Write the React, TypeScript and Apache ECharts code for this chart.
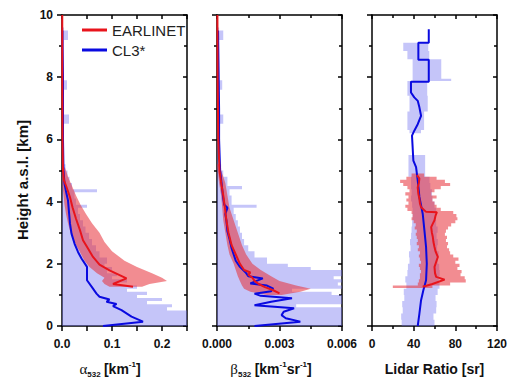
import React, { useEffect, useRef } from "react";
import * as echarts from "echarts";

// ---------- Panel 1: extinction alpha_532 [km^-1] ----------
const alphaCL3H = [0, 0.14, 0.3, 0.51, 0.64, 0.71, 0.78, 0.85, 0.94, 1.04, 1.2, 1.47, 1.9, 2.17, 2.38, 2.65, 2.97, 3.29, 3.66, 4.04, 4.25, 4.57, 5.0, 6.0, 7.0, 8.0, 9.0, 9.5];
const alphaCL3 = [0.082, 0.162, 0.139, 0.119, 0.102, 0.109, 0.089, 0.095, 0.075, 0.069, 0.062, 0.05, 0.05, 0.039, 0.032, 0.025, 0.019, 0.016, 0.014, 0.012, 0.009, 0.005, 0.003, 0.002, 0.002, 0.002, 0.001, 0.001];
const alphaEarH = [1.26, 1.35, 1.53, 1.66, 1.79, 1.97, 2.22, 2.49, 2.76, 3.08, 3.45, 3.82, 4.14, 4.47, 4.68, 5.0, 6.0, 8.0, 10.0];
const alphaEar = [0.142, 0.102, 0.129, 0.112, 0.095, 0.075, 0.062, 0.052, 0.042, 0.036, 0.028, 0.021, 0.016, 0.009, 0.004, 0.002, 0.001, 0.0006, 0.0005];
const alphaEarBandH = [1.26, 1.35, 1.45, 1.55, 1.7, 1.9, 2.1, 2.4, 2.7, 3.0, 3.3, 3.6, 3.9, 4.2, 4.5, 4.8, 5.1];
const alphaEarBandLo = [0.095, 0.085, 0.08, 0.085, 0.07, 0.055, 0.045, 0.035, 0.025, 0.017, 0.012, 0.008, 0.005, 0.003, 0.001, 0, 0];
const alphaEarBandHi = [0.16, 0.175, 0.21, 0.2, 0.18, 0.15, 0.125, 0.1, 0.085, 0.075, 0.06, 0.048, 0.037, 0.028, 0.02, 0.012, 0.006];
// step rows: boundaries / upper value per row (lower = 0)
const alphaCL3BandH = [0, 0.1, 0.2, 0.3, 0.4, 0.5, 0.6, 0.7, 0.8, 0.9, 1.0, 1.1, 1.2, 1.3, 1.4, 1.5, 1.6, 1.7, 1.8, 1.9, 2.0, 2.2, 2.4, 2.6, 2.8, 3.0, 3.2, 3.4, 3.6, 3.8, 3.9, 4.1, 4.3, 4.4, 4.6, 4.8, 5.0, 5.2, 6.5, 6.8, 7.6, 7.9, 9.2, 9.5, 9.6];
const alphaCL3BandHi = [0.25, 0.25, 0.25, 0.25, 0.25, 0.21, 0.22, 0.17, 0.2, 0.15, 0.17, 0.13, 0.15, 0.11, 0.13, 0.1, 0.11, 0.09, 0.1, 0.085, 0.09, 0.075, 0.068, 0.06, 0.054, 0.047, 0.042, 0.036, 0.032, 0.05, 0.028, 0.025, 0.07, 0.02, 0.015, 0.011, 0.007, 0.004, 0.014, 0.004, 0.01, 0.004, 0.012, 0.004];

// ---------- Panel 2: backscatter beta_532 [km^-1 sr^-1] ----------
const betaCL3H = [0, 0.14, 0.25, 0.35, 0.46, 0.57, 0.67, 0.78, 0.89, 0.97, 1.04, 1.12, 1.2, 1.3, 1.37, 1.45, 1.53, 1.6, 1.7, 1.9, 2.1, 2.3, 2.5, 2.8, 3.05, 3.4, 3.6, 3.8, 3.9, 4.1, 4.4, 4.7, 5.0, 6.0, 7.0, 8.0, 9.5];
const betaCL3 = [0.0018, 0.004, 0.0033, 0.0031, 0.0032, 0.0037, 0.0018, 0.0026, 0.0036, 0.0021, 0.0018, 0.0026, 0.0027, 0.0024, 0.0016, 0.0019, 0.0022, 0.0015, 0.0014, 0.0011, 0.0009, 0.0008, 0.0007, 0.0006, 0.0005, 0.00045, 0.0004, 0.0005, 0.00035, 0.0003, 0.00025, 0.0002, 0.00015, 0.0001, 0.0001, 0.00008, 0.00005];
const betaEarH = [1.05, 1.15, 1.25, 1.35, 1.45, 1.55, 1.65, 1.72, 1.8, 2.0, 2.3, 2.6, 3.0, 3.4, 3.8, 4.2, 4.6, 5.0, 6.0, 8.0, 10.0];
const betaEar = [0.003, 0.0027, 0.0023, 0.002, 0.0018, 0.0017, 0.0015, 0.0016, 0.0013, 0.0011, 0.0009, 0.0007, 0.00055, 0.00045, 0.00038, 0.0003, 0.0002, 0.00012, 0.00006, 0.00003, 0.00002];
const betaEarBandH = [1.0, 1.1, 1.2, 1.3, 1.45, 1.6, 1.8, 2.0, 2.3, 2.6, 3.0, 3.4, 3.8, 4.2, 4.6, 4.9, 5.2];
const betaEarBandLo = [0.0024, 0.0016, 0.0013, 0.0012, 0.0011, 0.001, 0.0009, 0.0008, 0.0006, 0.0005, 0.0004, 0.0003, 0.00025, 0.0002, 0.0001, 0.00005, 0];
const betaEarBandHi = [0.0031, 0.004, 0.0045, 0.0038, 0.003, 0.0026, 0.0021, 0.0017, 0.0014, 0.0012, 0.001, 0.0008, 0.0006, 0.0005, 0.0004, 0.00025, 0.0001];
const betaCL3BandH = [0, 0.1, 0.2, 0.3, 0.4, 0.5, 0.6, 0.7, 0.8, 0.9, 1.0, 1.1, 1.2, 1.3, 1.4, 1.5, 1.6, 1.7, 1.8, 1.9, 2.0, 2.2, 2.4, 2.6, 2.8, 3.0, 3.2, 3.4, 3.6, 3.8, 3.9, 4.2, 4.4, 4.5, 4.8, 5.0, 5.2, 6.5, 6.8, 7.6, 7.9, 9.2, 9.5, 9.6];
const betaCL3BandHi = [0.006, 0.006, 0.006, 0.006, 0.006, 0.006, 0.0038, 0.006, 0.006, 0.006, 0.0055, 0.0036, 0.006, 0.0058, 0.006, 0.0056, 0.006, 0.006, 0.0045, 0.0034, 0.0024, 0.0018, 0.0015, 0.0013, 0.0012, 0.0011, 0.001, 0.0009, 0.0008, 0.0019, 0.0007, 0.0006, 0.0012, 0.0005, 0.0003, 0.0002, 0.0001, 0.0003, 0.0001, 0.00025, 0.0001, 0.0003, 0.0001];

// ---------- Panel 3: lidar ratio [sr] ----------
const lrCL3H = [0, 0.4, 0.83, 1.15, 1.47, 2.0, 2.54, 3.08, 3.61, 4.15, 4.68, 5.11, 5.32, 5.75, 6.12, 6.28, 6.49, 6.76, 7.03, 7.24, 7.35, 7.51, 7.85, 7.85, 8.56, 8.56, 9.11, 9.11, 9.54];
const lrCL3 = [43.9, 45.5, 47.1, 49.3, 51.9, 52.6, 51.9, 50.3, 48.7, 45.5, 43.9, 42.3, 39.7, 39.0, 38.4, 40.6, 43.9, 47.1, 45.5, 43.9, 40.6, 37.4, 37.4, 54.5, 54.5, 44.5, 44.5, 54.5, 54.5];
const lrEarH = [1.26, 1.35, 1.49, 1.58, 1.7, 1.9, 2.05, 2.22, 2.4, 2.54, 2.7, 2.86, 3.0, 3.18, 3.3, 3.4, 3.55, 3.66, 3.67, 3.82, 3.95, 4.09, 4.25, 4.46, 4.6, 4.75, 4.85];
const lrEar = [48.7, 58, 69.7, 61.6, 60.5, 60, 61.5, 63.2, 61, 60, 59, 58.4, 57.5, 56.8, 58.5, 60, 61, 62.3, 51.9, 47.1, 46, 45.5, 44.5, 43.9, 45, 45.5, 43];
const lrEarBandH = [1.22, 1.3, 1.4, 1.5, 1.6, 1.7, 1.8, 1.9, 2.0, 2.1, 2.2, 2.3, 2.4, 2.5, 2.6, 2.7, 2.8, 2.9, 3.0, 3.1, 3.2, 3.3, 3.4, 3.5, 3.6, 3.7, 3.8, 3.9, 4.0, 4.1, 4.2, 4.3, 4.4, 4.5, 4.6, 4.7, 4.8, 4.9];
const lrEarBandLo = [20, 44, 45, 46, 46, 47, 46, 45, 47, 46, 45, 46, 44, 45, 43, 44, 43, 42, 43, 41, 42, 40, 38, 39, 38, 34, 32, 35, 33, 35, 32, 36, 34, 30, 27, 33, 38];
const lrEarBandHi = [58, 75, 90, 89, 85, 86, 82, 84, 80, 83, 78, 75, 74, 72, 73, 71, 72, 70, 71, 73, 76, 80, 82, 81, 78, 66, 62, 60, 58, 62, 57, 60, 66, 75, 70, 62, 50];
const lrCL3BandH = [0, 0.2, 0.4, 0.6, 0.8, 1.0, 1.2, 1.4, 1.6, 1.8, 2.0, 2.2, 2.4, 2.6, 2.8, 3.0, 3.2, 3.4, 3.6, 3.8, 4.0, 4.2, 4.4, 4.6, 4.8, 5.5, 6.2, 6.3, 6.9, 7.4, 7.88, 7.95, 8.58, 8.84, 9.11];
const lrCL3BandLo = [28.5, 28, 29.5, 29, 31, 30.5, 33, 32, 34, 34.5, 36, 35.5, 37, 36.5, 37.5, 38, 38.5, 39, 39, 38.5, 37.5, 38, 37.5, 37.5, 35, 39, 36, 34, 36, 34, 39, 39, 34, 30];
const lrCL3BandHi = [60, 59, 61.6, 62, 61, 63, 64.8, 64, 65, 64.5, 63, 64, 62.5, 63.2, 62, 63, 61.6, 61, 61.6, 60, 58, 57.5, 56, 55.2, 51, 39, 47, 50, 53.5, 53, 76, 66.5, 55, 54];

// ---------- axes ----------
const heightTicks = { min: 0, max: 10, interval: 2 };
const alphaAxis = { min: 0, max: 0.25, interval: 0.05, labelStep: 0.1, digits: 1 };
const betaAxis = { min: 0, max: 0.006, interval: 0.003, labelStep: 0.003, digits: 3 };
const lrAxis = { min: 0, max: 120, interval: 40, labelStep: 40, digits: 0 };
const heightTitle = "Height a.s.l. [km]";

const FONT = "'Liberation Sans', Arial, Helvetica, sans-serif";
const RED = "#e8141c";
const BLUE = "#0a0ae0";
const RED_BAND = "rgba(232,45,55,0.55)";
const BLUE_BAND = "rgba(110,110,240,0.4)";

const GRIDS = [
  { left: 62, top: 15, width: 125, height: 311, outerBoundsMode: "none", containLabel: false },
  { left: 217, top: 15, width: 125, height: 311, outerBoundsMode: "none", containLabel: false },
  { left: 372, top: 15, width: 125, height: 311, outerBoundsMode: "none", containLabel: false },
];

const lineSt = { color: "#000", width: 1.5 };

function xAxes(g: number, ax: any, name: string, rich: any, padRight: number, minor: boolean) {
  const base = {
    type: "value",
    gridIndex: g,
    min: ax.min,
    max: ax.max,
    interval: ax.interval,
    splitLine: { show: false },
    axisLine: { show: true, onZero: false, lineStyle: lineSt },
  };
  const fmt = (v: number) => {
    const r = v / ax.labelStep;
    if (Math.abs(r - Math.round(r)) > 1e-6) return "";
    return v.toFixed(ax.digits);
  };
  return [
    {
      ...base,
      position: "bottom",
      axisTick: { show: true, inside: false, length: 5, lineStyle: lineSt },
      minorTick: { show: minor, splitNumber: 2, length: 3, lineStyle: lineSt },
      axisLabel: { show: true, formatter: fmt, fontFamily: FONT, fontWeight: "bold", fontSize: 12, color: "#111", margin: 12 },
      name,
      nameLocation: "middle",
      nameGap: 34,
      nameTextStyle: { rich, padding: [0, padRight, 0, 0] },
    },
    {
      ...base,
      position: "top",
      axisTick: { show: true, inside: true, length: 4, lineStyle: lineSt },
      minorTick: { show: minor, splitNumber: 2, length: 3, lineStyle: lineSt },
      axisLabel: { show: false },
    },
  ];
}

function yAxes(g: number) {
  const base = {
    type: "value",
    gridIndex: g,
    min: heightTicks.min,
    max: heightTicks.max,
    interval: heightTicks.interval,
    splitLine: { show: false },
    axisLine: { show: true, onZero: false, lineStyle: lineSt },
    minorTick: { show: true, splitNumber: 2, length: 3, lineStyle: lineSt },
  };
  return [
    {
      ...base,
      position: "left",
      axisTick: { show: true, inside: false, length: 5, lineStyle: lineSt },
      axisLabel: { show: g === 0, fontFamily: FONT, fontWeight: "bold", fontSize: 12, color: "#111", margin: 9 },
    },
    {
      ...base,
      position: "right",
      axisTick: { show: true, inside: true, length: 4, lineStyle: lineSt },
      axisLabel: { show: false },
    },
  ];
}

function band(g: number, h: number[], lo: number[] | null, hi: number[], step: boolean, color: string) {
  return {
    type: "custom",
    xAxisIndex: 2 * g,
    yAxisIndex: 2 * g,
    silent: true,
    clip: true,
    data: [[hi[0], h[0]]],
    encode: { x: 0, y: 1 },
    renderItem: (params: any, api: any) => {
      if (params.dataIndex !== 0) return null;
      const L = (i: number) => (lo ? lo[i] : 0);
      const pts: number[][] = [];
      if (step) {
        const n = Math.min(h.length - 1, hi.length);
        for (let i = 0; i < n; i++) {
          pts.push(api.coord([hi[i], h[i]]));
          pts.push(api.coord([hi[i], h[i + 1]]));
        }
        for (let i = n - 1; i >= 0; i--) {
          pts.push(api.coord([L(i), h[i + 1]]));
          pts.push(api.coord([L(i), h[i]]));
        }
      } else {
        for (let i = 0; i < h.length; i++) pts.push(api.coord([hi[i], h[i]]));
        for (let i = h.length - 1; i >= 0; i--) pts.push(api.coord([L(i), h[i]]));
      }
      return { type: "polygon", shape: { points: pts }, style: { fill: color } };
    },
  };
}

function line(g: number, name: string, h: number[], v: number[], color: string) {
  return {
    type: "line",
    name,
    xAxisIndex: 2 * g,
    yAxisIndex: 2 * g,
    data: h.map((y, i) => [v[i], y]),
    symbol: "none",
    showSymbol: false,
    silent: true,
    clip: true,
    lineStyle: { color, width: 2 },
    itemStyle: { color },
  };
}

const subRich = {
  g: { fontFamily: "'Liberation Serif', 'DejaVu Serif', serif", fontSize: 15, color: "#111", lineHeight: 18 },
  sub: { fontFamily: FONT, fontWeight: "bold", fontSize: 8, color: "#111", verticalAlign: "bottom", lineHeight: 18 },
  b: { fontFamily: FONT, fontWeight: "bold", fontSize: 14, color: "#111", lineHeight: 18 },
  sup: { fontFamily: FONT, fontWeight: "bold", fontSize: 8, color: "#111", verticalAlign: "top", lineHeight: 18 },
};

export default function App() {
  const ref = useRef<HTMLDivElement>(null);
  useEffect(() => {
    if (!ref.current) return;
    const chart = echarts.init(ref.current, undefined, { renderer: "svg" });
    chart.setOption({
      animation: false,
      backgroundColor: "#fff",
      grid: GRIDS,
      legend: {
        data: ["EARLINET", "CL3*"],
        orient: "vertical",
        left: 82,
        top: 20,
        padding: 0,
        icon: "rect",
        itemWidth: 25,
        itemHeight: 3,
        itemGap: 0,
        selectedMode: false,
        textStyle: { fontFamily: FONT, fontSize: 15, color: "#222", lineHeight: 20 },
      },
      graphic: [
        {
          type: "text",
          x: 22,
          y: 180,
          rotation: Math.PI / 2,
          silent: true,
          style: {
            text: heightTitle,
            fontFamily: FONT,
            fontWeight: "bold",
            fontSize: 15,
            fill: "#111",
            align: "center",
            verticalAlign: "middle",
          },
        },
      ],
      xAxis: [
        ...xAxes(0, alphaAxis, "{g|α}{sub|532} {b|[km}{sup|-1}{b|]}", subRich, 29, false),
        ...xAxes(1, betaAxis, "{g|β}{sub|532} {b|[km}{sup|-1}{b|sr}{sup|-1}{b|]}", subRich, 17, true),
        ...xAxes(2, lrAxis, "{b|Lidar Ratio [sr]}", subRich, 0, true),
      ],
      yAxis: [...yAxes(0), ...yAxes(1), ...yAxes(2)],
      series: [
        band(0, alphaCL3BandH, null, alphaCL3BandHi, true, BLUE_BAND),
        line(0, "CL3*", alphaCL3H, alphaCL3, BLUE),
        band(0, alphaEarBandH, alphaEarBandLo, alphaEarBandHi, false, RED_BAND),
        line(0, "EARLINET", alphaEarH, alphaEar, RED),

        band(1, betaCL3BandH, null, betaCL3BandHi, true, BLUE_BAND),
        line(1, "CL3*", betaCL3H, betaCL3, BLUE),
        band(1, betaEarBandH, betaEarBandLo, betaEarBandHi, false, RED_BAND),
        line(1, "EARLINET", betaEarH, betaEar, RED),

        band(2, lrCL3BandH, lrCL3BandLo, lrCL3BandHi, true, BLUE_BAND),
        line(2, "CL3*", lrCL3H, lrCL3, BLUE),
        band(2, lrEarBandH, lrEarBandLo, lrEarBandHi, true, RED_BAND),
        line(2, "EARLINET", lrEarH, lrEar, RED),
      ],
    });
    return () => chart.dispose();
  }, []);
  return <div ref={ref} style={{ position: "absolute", left: 0, top: 0, width: 508, height: 379 }} />;
}
